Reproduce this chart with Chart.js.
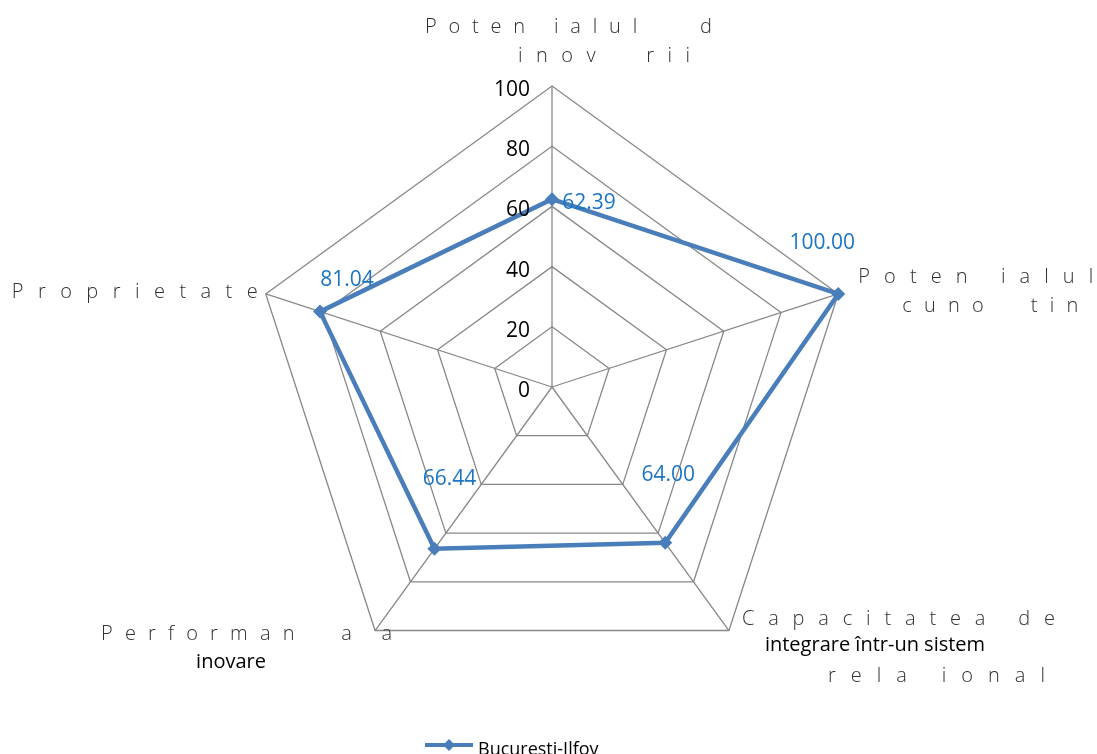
<!DOCTYPE html>
<html>
<head>
<meta charset="utf-8">
<script src="https://cdn.jsdelivr.net/npm/chart.js@4/dist/chart.umd.min.js"></script>
<style>
  html, body { margin: 0; padding: 0; background: #fff; }
  canvas { display: block; }
</style>
</head>
<body>
<canvas id="radarChart" width="1097" height="754"></canvas>
<script>
/**
 *  Chart data.
 */
var categories = ['Potentialul de inovare', 'Potentialul cunostintelor', 'Capacitatea de integrare', 'Performanta inovare', 'Proprietate'];
var seriesName = 'Bucuresti-Ilfov';
var seriesValues = [62.39, 100.00, 64.00, 66.44, 81.04];
var tickValues = [0, 20, 40, 60, 80, 100];
var tickLabels = ['0', '20', '40', '60', '80', '100'];

// axis titles as they show in the picture (each line: text, spaced or not)
var axisTitleLines = [
    [['Poten ialul   d', true], ['inov  rii', true]],
    [['Poten ialul', true], ['cuno  tin', true]],
    [['Capacitatea de', true], ['integrare într-un sistem', false], ['rela ional', true]],
    [['Performan  a a', true], ['inovare', false]],
    [['Proprietate', true]]
];

/**
 *  Layout of the texts around the chart (offsets from the outer vertex).
 */
var titleLayout = [
    [{dx: -127, w: 287, dy: -59}, {dx: -34, w: 172, dy: -30}],
    [{dx: 20, w: 235, dy: -17}, {dx: 64, w: 176, dy: 12}],
    [{dx: 13, w: 313, dy: -11}, {dx: 36, dy: 15}, {dx: 99, w: 217, dy: 46}],
    [{dx: -274, w: 291, dy: 4}, {dx: -179, dy: 32}],
    [{dx: -254, w: 246, dy: -2}]
];
var valueLabelOffsets = [[37, 4], [-16, -51], [3, -68], [15, -70], [27, -32]];

// letter-spaced text stretched to a given width
function drawSpaced(ctx, text, x, y, width) {
    var chars = text.split('');
    var total = 0;
    chars.forEach(function(c) { total += ctx.measureText(c).width; });
    var gap = chars.length > 1 ? (width - total) / (chars.length - 1) : 0;
    chars.forEach(function(c) {
        if (c !== ' ') ctx.fillText(c, x, y);
        x += ctx.measureText(c).width + gap;
    });
}

var textPlugin = {
    id: 'textPlugin',
    afterDraw: function(chart) {
        var ctx = chart.ctx;
        var scale = chart.scales.r;
        ctx.save();

        // tick labels
        ctx.font = '21px "Open Sans"';
        ctx.fillStyle = '#000';
        ctx.textAlign = 'right';
        ctx.textBaseline = 'middle';
        tickValues.forEach(function(v, i) {
            var y = scale.yCenter - scale.getDistanceFromCenterForValue(v);
            ctx.fillText(tickLabels[i], scale.xCenter - 22, y + 4);
        });

        // value labels
        ctx.fillStyle = '#1B75C2';
        ctx.textAlign = 'center';
        var meta = chart.getDatasetMeta(0);
        meta.data.forEach(function(pt, i) {
            ctx.fillText(seriesValues[i].toFixed(2), pt.x + valueLabelOffsets[i][0], pt.y + valueLabelOffsets[i][1]);
        });

        // axis titles
        ctx.textAlign = 'left';
        axisTitleLines.forEach(function(lines, i) {
            var v = scale.getPointPosition(i, scale.drawingArea);
            lines.forEach(function(line, j) {
                var lay = titleLayout[i][j];
                if (line[1]) {
                    ctx.font = '300 20px "Open Sans"';
                    ctx.fillStyle = '#303030';
                    drawSpaced(ctx, line[0], v.x + lay.dx, v.y + lay.dy, lay.w);
                } else {
                    ctx.font = '20px "Open Sans"';
                    ctx.fillStyle = '#000';
                    ctx.fillText(line[0], v.x + lay.dx, v.y + lay.dy);
                }
            });
        });

        // legend
        var lx = 425, ly = 745;
        ctx.strokeStyle = '#4A7EBB';
        ctx.lineWidth = 4;
        ctx.beginPath();
        ctx.moveTo(lx, ly);
        ctx.lineTo(lx + 48, ly);
        ctx.stroke();
        ctx.fillStyle = '#4A7EBB';
        ctx.beginPath();
        ctx.moveTo(lx + 24, ly - 6);
        ctx.lineTo(lx + 30, ly);
        ctx.lineTo(lx + 24, ly + 6);
        ctx.lineTo(lx + 18, ly);
        ctx.closePath();
        ctx.fill();
        ctx.fillStyle = '#000';
        ctx.font = '18px "Open Sans"';
        ctx.textBaseline = 'alphabetic';
        ctx.fillText(seriesName, lx + 53, 755);

        ctx.restore();
    }
};

var radarChart = new Chart(document.getElementById('radarChart').getContext('2d'), {
    type: 'radar',
    data: {
        labels: categories,
        datasets: [{
            label: seriesName,
            data: seriesValues,
            borderColor: '#4A7EBB',
            backgroundColor: '#4A7EBB',
            borderWidth: 4.5,
            fill: false,
            pointStyle: 'rectRot',
            pointRadius: 7,
            pointBackgroundColor: '#4A7EBB',
            pointBorderColor: '#4A7EBB',
            pointBorderWidth: 0
        }]
    },
    options: {
        responsive: false,
        animation: false,
        devicePixelRatio: 1,
        layout: { padding: { top: 86, bottom: 66, left: 7, right: 0 } },
        scales: {
            r: {
                min: 0,
                max: 100,
                ticks: { stepSize: 20, display: false },
                pointLabels: { display: false },
                grid: { color: '#888888', lineWidth: 1.3 },
                angleLines: { color: '#888888', lineWidth: 1.3 }
            }
        },
        plugins: {
            legend: { display: false },
            tooltip: { enabled: false }
        }
    },
    plugins: [textPlugin]
});
</script>
</body>
</html>
